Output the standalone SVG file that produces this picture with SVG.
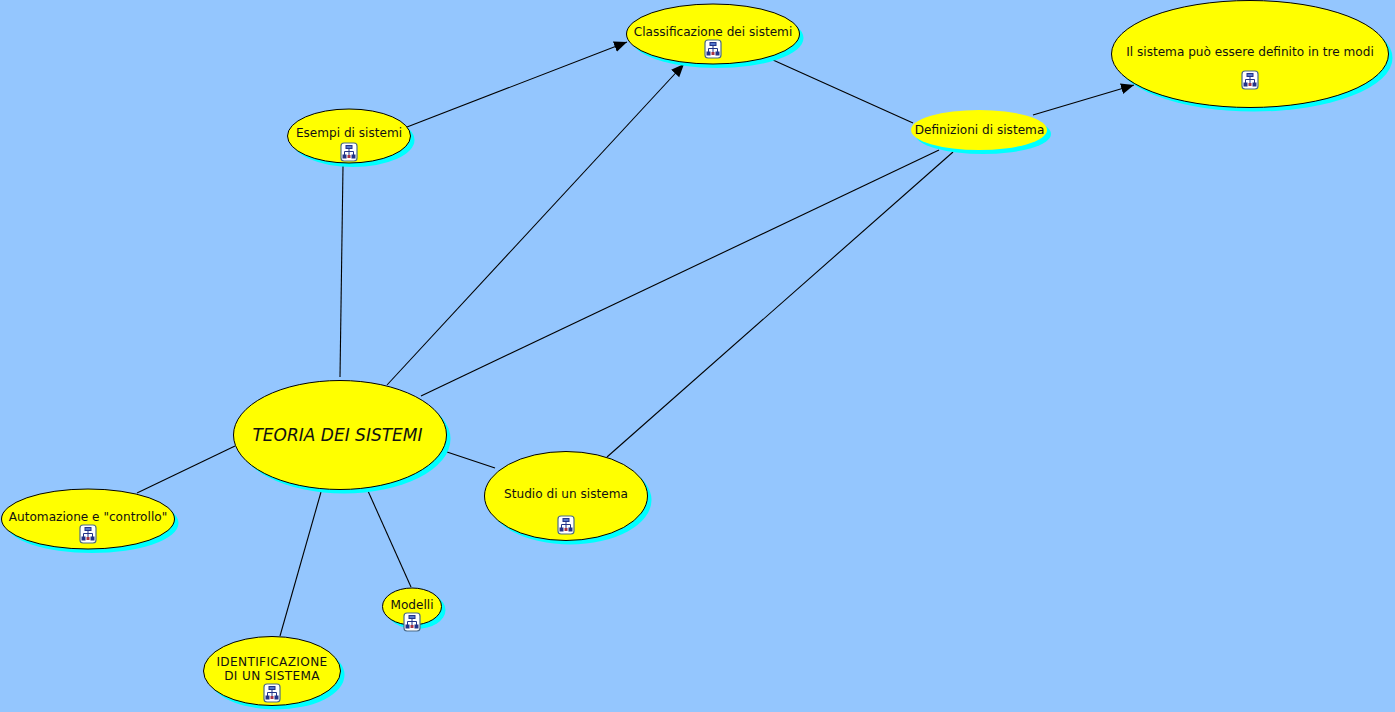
<svg xmlns="http://www.w3.org/2000/svg" width="1395" height="712" viewBox="0 0 1395 712">
<style>
.s{fill:#00ffff}
.e{fill:#ffff00;stroke:#000;stroke-width:1}
.t{font-family:"DejaVu Sans",Verdana,sans-serif;font-size:12.100px;fill:#111;text-anchor:middle}
.u{letter-spacing:.35px}
.c{stroke:#000;stroke-width:1.100;fill:none}
.a{marker-end:url(#arrow)}
</style>
<defs>
<marker id="arrow" markerUnits="userSpaceOnUse" markerWidth="14" markerHeight="12" refX="13" refY="5.500" orient="auto"><path d="M0 0L13 5.500L0 11Z" fill="#000"/></marker>
<g id="icon">
<rect x="-8" y="-9" width="16" height="18" rx="3" fill="#fff" stroke="#4a6a88" stroke-width="1.200"/>
<path d="M0 -3V3M-4.500 3V-0.500H4.500V3" fill="none" stroke="#223388" stroke-width="1"/>
<rect x="-3" y="-6.500" width="6" height="3" fill="#5577cc" stroke="#223388" stroke-width="1"/>
<rect x="-6.500" y="2.500" width="4" height="4" fill="#223388"/>
<rect x="2.500" y="2.500" width="4" height="4" fill="#223388"/>
<rect x="-1.500" y="3" width="3" height="3" fill="#aa3344"/>
</g>
</defs>
<rect width="1395" height="712" fill="#94c6fe"/>
<g id="connectors">
<path class="c" d="M343 166L340 377"/>
<path class="c a" d="M407 127L627 42"/>
<path class="c a" d="M387 385L684 64"/>
<path class="c" d="M421 396L939 150"/>
<path class="c" d="M607 457L953 152"/>
<path class="c" d="M773 60L913 123"/>
<path class="c a" d="M1033 115L1134 85"/>
<path class="c" d="M235 446L137 493"/>
<path class="c" d="M447 452L495 468"/>
<path class="c" d="M321 492L280 636"/>
<path class="c" d="M368 491L411 587"/>
</g>
<g id="n-classificazione">
<ellipse class="s" cx="717" cy="38" rx="86.500" ry="30"/>
<ellipse class="e" cx="713" cy="34" rx="86.500" ry="30"/>
<text class="t" x="713" y="36">Classificazione dei sistemi</text>
<use href="#icon" x="713" y="49"/>
</g>
<g id="n-modi">
<ellipse class="s" cx="1254" cy="58" rx="138.500" ry="53.500"/>
<ellipse class="e" cx="1250" cy="54" rx="138.500" ry="53.500"/>
<text class="t" x="1250" y="56">Il sistema può essere definito in tre modi</text>
<use href="#icon" x="1250" y="80"/>
</g>
<g id="n-esempi">
<ellipse class="s" cx="353" cy="140" rx="61.500" ry="27"/>
<ellipse class="e" cx="349" cy="136" rx="61.500" ry="27"/>
<text class="t" x="349" y="137">Esempi di sistemi</text>
<use href="#icon" x="349" y="152"/>
</g>
<g id="n-definizioni">
<ellipse class="s" cx="983" cy="134" rx="68" ry="20"/>
<ellipse cx="979" cy="130" rx="68" ry="20" fill="#ffff00"/>
<text class="t" x="979.500" y="134">Definizioni di sistema</text>
</g>
<g id="n-teoria">
<ellipse class="s" cx="344" cy="439" rx="106.500" ry="54.500"/>
<ellipse class="e" cx="340" cy="435" rx="106.500" ry="54.500"/>
<text x="337.500" y="441" style="font-family:'DejaVu Sans',Verdana,sans-serif;font-size:17px;font-style:italic;text-anchor:middle;fill:#111">TEORIA DEI SISTEMI</text>
</g>
<g id="n-studio">
<ellipse class="s" cx="570" cy="500" rx="81.500" ry="44.500"/>
<ellipse class="e" cx="566" cy="496" rx="81.500" ry="44.500"/>
<text class="t" x="566" y="498">Studio di un sistema</text>
<use href="#icon" x="566" y="525"/>
</g>
<g id="n-automazione">
<ellipse class="s" cx="92" cy="523" rx="86.500" ry="30"/>
<ellipse class="e" cx="88" cy="519" rx="86.500" ry="30"/>
<text class="t" x="88" y="521">Automazione e "controllo"</text>
<use href="#icon" x="88" y="534"/>
</g>
<g id="n-modelli">
<ellipse class="s" cx="416" cy="610" rx="29.500" ry="19"/>
<ellipse class="e" cx="412" cy="606.500" rx="29.500" ry="18.500"/>
<text class="t" x="412" y="609">Modelli</text>
<use href="#icon" x="412" y="622"/>
</g>
<g id="n-identificazione">
<ellipse class="s" cx="276" cy="675" rx="68.500" ry="34.500"/>
<ellipse class="e" cx="272" cy="671" rx="68.500" ry="34.500"/>
<text class="t u" x="272" y="666">IDENTIFICAZIONE</text>
<text class="t u" x="272" y="680">DI UN SISTEMA</text>
<use href="#icon" x="272" y="693"/>
</g>
</svg>
